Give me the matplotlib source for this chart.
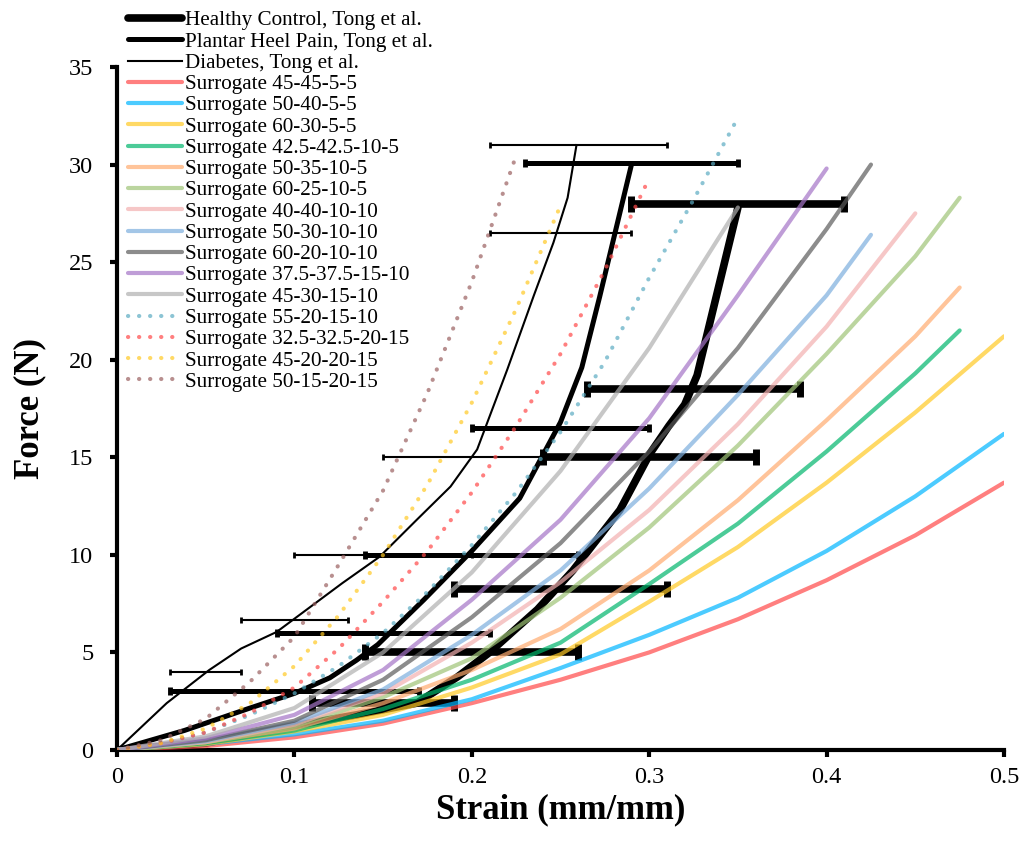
import numpy as np
import matplotlib.pyplot as plt

plt.rcParams['font.family'] = ['Liberation Serif', 'DejaVu Serif']

# ---- Tong et al. curves ----
hc_x = [0, 0.05, 0.0975, 0.135, 0.169, 0.192, 0.21, 0.237, 0.257, 0.2835, 0.3005, 0.311, 0.32, 0.327, 0.35]
hc_y = [0, 0.35, 1.2, 1.8, 2.4, 3.75, 5.0, 7.2, 9.2, 12.3, 15.2, 16.6, 17.7, 19.2, 27.8]

php_x = [0, 0.038, 0.075, 0.1, 0.12, 0.135, 0.147, 0.173, 0.2, 0.227, 0.25, 0.262, 0.272, 0.29]
php_y = [0, 1.0, 2.15, 2.9, 3.7, 4.6, 5.4, 7.7, 10.2, 12.9, 16.8, 19.6, 23.2, 30.0]

dm_x = [0, 0.028, 0.052, 0.07, 0.09, 0.127, 0.148, 0.169, 0.188, 0.203, 0.22, 0.235, 0.246, 0.254, 0.259]
dm_y = [0, 2.4, 4.1, 5.2, 6.05, 8.55, 9.9, 11.8, 13.5, 15.4, 19.5, 23.3, 26.0, 28.3, 31.0]

# error bars (mean strain, force, SD of strain)
hc_bar_x = [0.15, 0.20, 0.25, 0.30, 0.325, 0.35]
hc_bar_y = [2.4, 5.0, 8.25, 15.0, 18.5, 28.0]
hc_bar_sd = [0.04, 0.06, 0.06, 0.06, 0.06, 0.06]

php_bar_x = [0.10, 0.15, 0.20, 0.25, 0.29]
php_bar_y = [3.0, 6.0, 10.0, 16.5, 30.1]
php_bar_sd = [0.07, 0.06, 0.06, 0.05, 0.06]

dm_bar_x = [0.05, 0.10, 0.15, 0.20, 0.25, 0.26]
dm_bar_y = [4.0, 6.66, 10.0, 15.0, 26.5, 31.0]
dm_bar_sd = [0.02, 0.03, 0.05, 0.05, 0.04, 0.05]

# ---- surrogate curves ----
x_050 = [0, 0.05, 0.1, 0.15, 0.2, 0.25, 0.3, 0.35, 0.4, 0.45, 0.5]
x_0475 = [0, 0.05, 0.1, 0.15, 0.2, 0.25, 0.3, 0.35, 0.4, 0.45, 0.475]
x_045 = [0, 0.05, 0.1, 0.15, 0.2, 0.25, 0.3, 0.35, 0.4, 0.45]
x_0425 = [0, 0.05, 0.1, 0.15, 0.2, 0.25, 0.3, 0.35, 0.4, 0.425]
x_040 = [0, 0.05, 0.1, 0.15, 0.2, 0.25, 0.3, 0.35, 0.4]
x_035 = [0, 0.05, 0.1, 0.15, 0.2, 0.25, 0.3, 0.35]
xd_035 = [0, 0.025, 0.05, 0.075, 0.1, 0.125, 0.15, 0.175, 0.2, 0.225, 0.25, 0.275, 0.3, 0.325, 0.35]
xd_030 = [0, 0.025, 0.05, 0.075, 0.1, 0.125, 0.15, 0.175, 0.2, 0.225, 0.25, 0.275, 0.3]
xd_025 = [0, 0.025, 0.05, 0.075, 0.1, 0.125, 0.15, 0.175, 0.2, 0.225, 0.25]
xd_0224 = [0, 0.025, 0.05, 0.075, 0.1, 0.125, 0.15, 0.175, 0.2, 0.224]

y_45_45_5_5 = [0, 0.2, 0.65, 1.35, 2.4, 3.6, 5.0, 6.7, 8.7, 11.0, 13.7]
y_50_40_5_5 = [0, 0.3, 0.8, 1.5, 2.6, 4.2, 5.9, 7.8, 10.2, 13.0, 16.2]
y_60_30_5_5 = [0, 0.3, 0.95, 1.8, 3.2, 4.9, 7.6, 10.4, 13.7, 17.3, 21.2]
y_425_425_10_5 = [0, 0.35, 1.0, 2.1, 3.6, 5.5, 8.5, 11.6, 15.3, 19.3, 21.5]
y_50_35_10_5 = [0, 0.4, 1.1, 2.4, 4.1, 6.2, 9.2, 12.8, 16.9, 21.2, 23.7]
y_60_25_10_5 = [0, 0.4, 1.2, 2.7, 4.7, 7.8, 11.4, 15.6, 20.3, 25.3, 28.3]
y_40_40_10_10 = [0, 0.4, 1.3, 2.9, 5.5, 8.6, 12.3, 16.7, 21.7, 27.5]
y_50_30_10_10 = [0, 0.45, 1.4, 3.1, 5.9, 9.2, 13.4, 18.2, 23.3, 26.4]
y_60_20_10_10 = [0, 0.5, 1.5, 3.6, 6.8, 10.6, 15.3, 20.6, 26.7, 30.0]
y_375_375_15_10 = [0, 0.6, 1.8, 4.1, 7.7, 11.8, 17.0, 23.3, 29.8]
y_45_30_15_10 = [0, 0.7, 2.15, 5.0, 9.1, 14.3, 20.6, 27.8]
y_55_20_15_10 = [0, 0.35, 0.9, 1.8, 2.9, 4.3, 6.0, 8.1, 10.5, 13.2, 16.3, 19.9, 24.2, 28.2, 32.4]
y_325_325_20_15 = [0, 0.35, 0.9, 1.9, 3.2, 5.2, 7.6, 10.2, 13.2, 16.6, 20.3, 24.6, 29.3]
y_45_20_20_15 = [0, 0.35, 1.1, 2.4, 4.3, 6.9, 10.0, 13.6, 17.8, 22.6, 27.9]
y_50_15_20_15 = [0, 0.5, 1.6, 3.5, 5.8, 9.5, 13.3, 18.3, 24.0, 30.2]

surrogates = [
    ('Surrogate 45-45-5-5', x_050, y_45_45_5_5, '#ff4949', False),
    ('Surrogate 50-40-5-5', x_050, y_50_40_5_5, '#00b6ff', False),
    ('Surrogate 60-30-5-5', x_050, y_60_30_5_5, '#ffc924', False),
    ('Surrogate 42.5-42.5-10-5', x_0475, y_425_425_10_5, '#00b66c', False),
    ('Surrogate 50-35-10-5', x_0475, y_50_35_10_5, '#ffab6f', False),
    ('Surrogate 60-25-10-5', x_0475, y_60_25_10_5, '#9fc477', False),
    ('Surrogate 40-40-10-10', x_045, y_40_40_10_10, '#f3b0b0', False),
    ('Surrogate 50-30-10-10', x_0425, y_50_30_10_10, '#7daede', False),
    ('Surrogate 60-20-10-10', x_0425, y_60_20_10_10, '#5b5b5b', False),
    ('Surrogate 37.5-37.5-15-10', x_040, y_375_375_15_10, '#a574c7', False),
    ('Surrogate 45-30-15-10', x_035, y_45_30_15_10, '#b0b0b0', False),
    ('Surrogate 55-20-15-10', xd_035, y_55_20_15_10, '#5babc2', True),
    ('Surrogate 32.5-32.5-20-15', xd_030, y_325_325_20_15, '#ff4949', True),
    ('Surrogate 45-20-20-15', xd_025, y_45_20_20_15, '#ffc924', True),
    ('Surrogate 50-15-20-15', xd_0224, y_50_15_20_15, '#9a6060', True),
]

fig = plt.figure(figsize=(10.22, 8.58), dpi=100)
ax = fig.add_axes([0.1145, 0.1259, 0.8679, 0.7960])

ax.plot(hc_x, hc_y, color='black', lw=5.5, solid_capstyle='round', solid_joinstyle='round',
        label='Healthy Control, Tong et al.', zorder=2)
ax.plot(php_x, php_y, color='black', lw=3.6, solid_capstyle='round', solid_joinstyle='round',
        label='Plantar Heel Pain, Tong et al.', zorder=2)
ax.plot(dm_x, dm_y, color='black', lw=1.5, label='Diabetes, Tong et al.', zorder=2)

ax.errorbar(hc_bar_x, hc_bar_y, xerr=hc_bar_sd, fmt='none', ecolor='black',
            elinewidth=5.5, capsize=6, capthick=5, zorder=2)
ax.errorbar(php_bar_x, php_bar_y, xerr=php_bar_sd, fmt='none', ecolor='black',
            elinewidth=3.6, capsize=3, capthick=3.5, zorder=2)
ax.errorbar(dm_bar_x, dm_bar_y, xerr=dm_bar_sd, fmt='none', ecolor='black',
            elinewidth=1.5, capsize=2.5, capthick=2, zorder=2)

for name, xs, ys, col, dotted in surrogates:
    if dotted:
        ax.plot(xs, ys, color=col, lw=3, alpha=0.7, linestyle=(0, (0.05, 2.6)),
                dash_capstyle='round', label=name, zorder=3)
    else:
        ax.plot(xs, ys, color=col, lw=3, alpha=0.7, solid_capstyle='round',
                solid_joinstyle='round', label=name, zorder=3)

ax.set_xlim(0, 0.5)
ax.set_ylim(0, 35)
ax.set_xticks(np.arange(0, 0.51, 0.1))
ax.set_xticklabels(['0', '0.1', '0.2', '0.3', '0.4', '0.5'])
ax.set_yticks(np.arange(0, 36, 5))

for s in ['top', 'right']:
    ax.spines[s].set_visible(False)
for s in ['left', 'bottom']:
    ax.spines[s].set_linewidth(3)
ax.tick_params(direction='out', length=5, width=3, labelsize=17.5, colors='black')
ax.tick_params(axis='y', pad=12)
ax.tick_params(axis='x', pad=7)

ax.set_xlabel('Strain (mm/mm)', fontsize=25, fontweight='bold')
ax.set_ylabel('Force (N)', fontsize=25, fontweight='bold')
ax.xaxis.label.set_va('center')
ax.yaxis.label.set_va('center')
ax.xaxis.set_label_coords(0.5, -0.088)
ax.yaxis.set_label_coords(-0.098, 0.5)

fig.legend(loc='upper left', bbox_to_anchor=(0.1252, 0.9876), bbox_transform=fig.transFigure,
           frameon=False, fontsize=15.2, handlelength=2.55, handletextpad=0.14,
           labelspacing=0.07, borderpad=0, borderaxespad=0)

fig.savefig('out.png', dpi=100)
